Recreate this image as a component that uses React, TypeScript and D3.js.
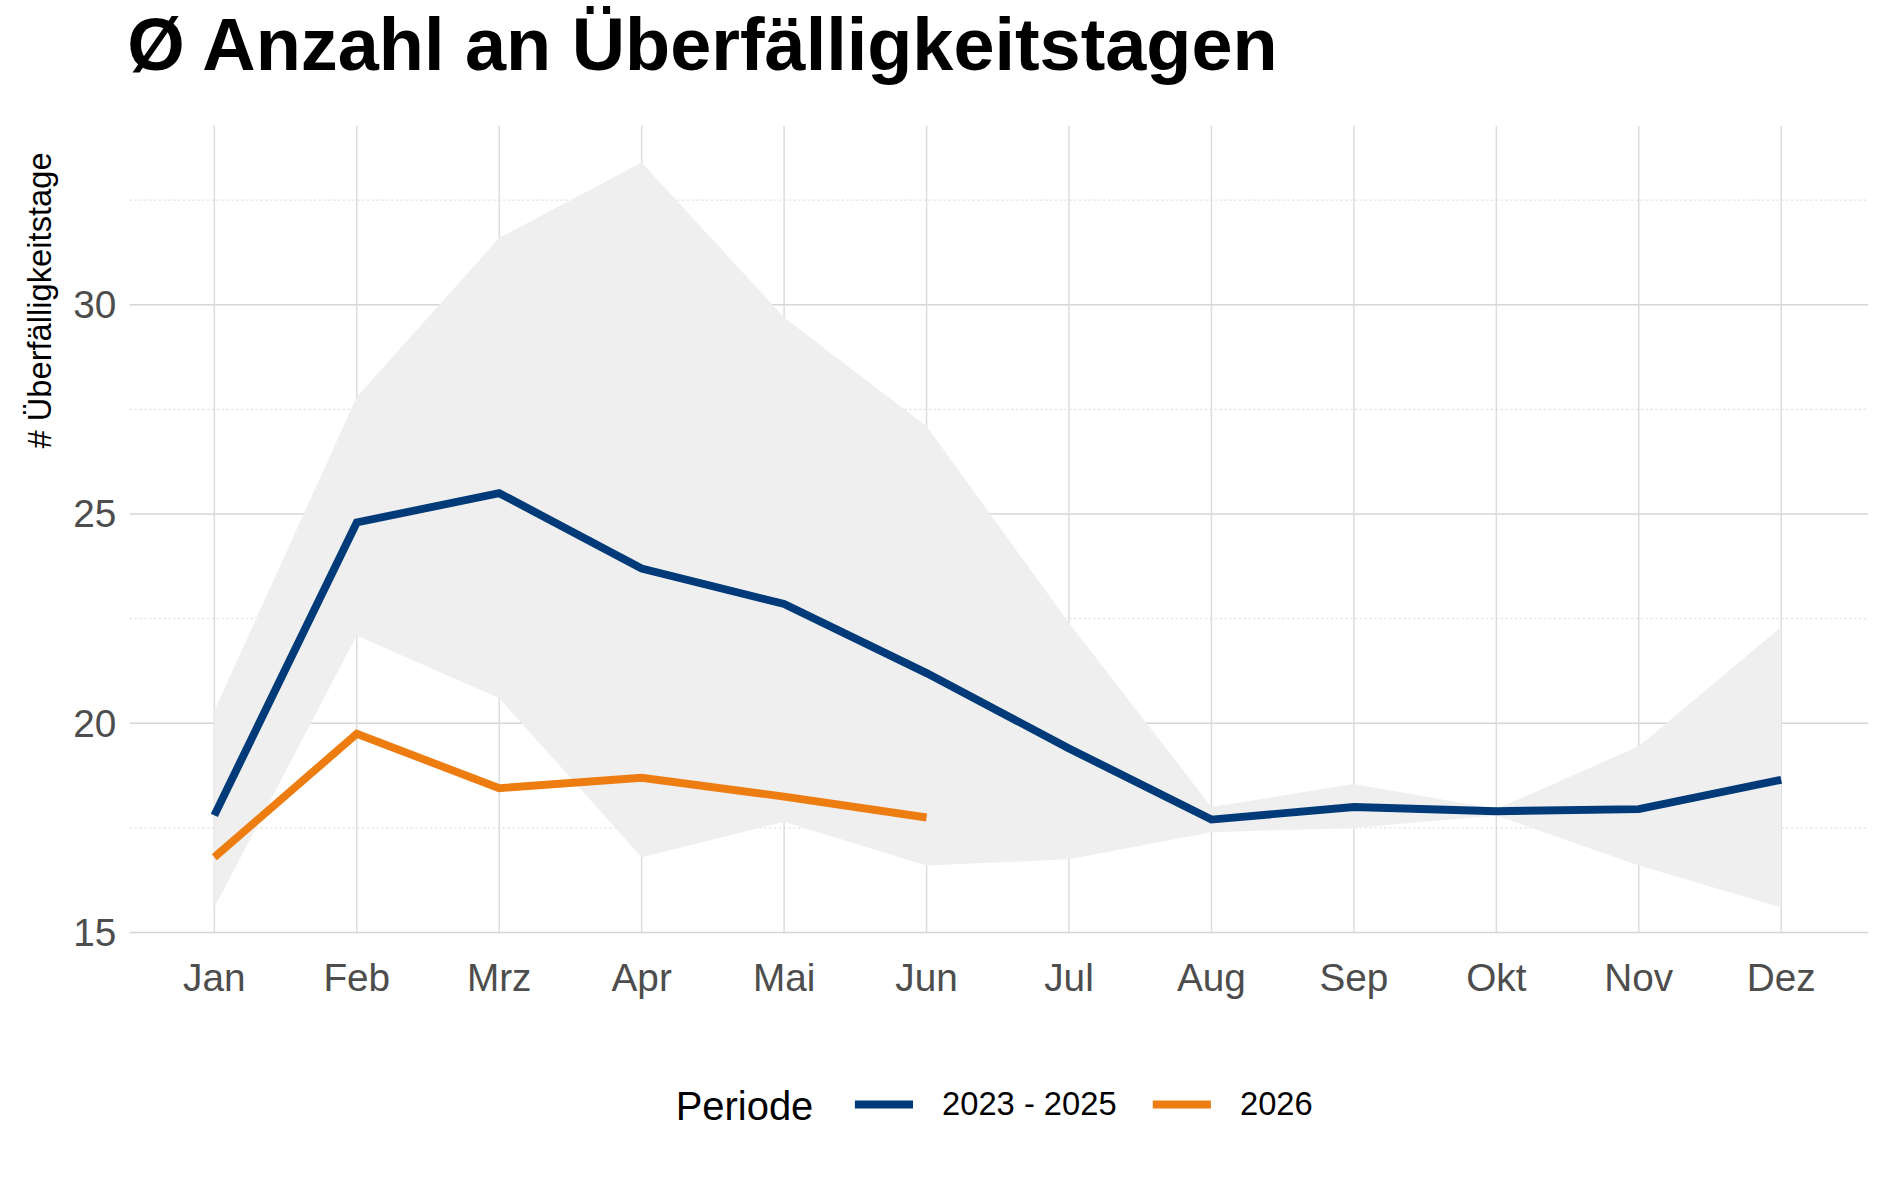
import React from "react";
import * as d3 from "d3";

const months = ["Jan","Feb","Mrz","Apr","Mai","Jun","Jul","Aug","Sep","Okt","Nov","Dez"];
const avg = [17.8,24.8,25.5,23.7,22.85,21.2,19.4,17.7,18.0,17.9,17.95,18.65];
const upper = [20.3,27.8,31.6,33.4,29.7,27.1,22.4,18.0,18.55,17.95,19.45,22.3];
const lower = [15.6,22.1,20.6,16.8,17.65,16.6,16.75,17.4,17.5,17.8,16.6,15.6];
const cur = [16.8,19.75,18.45,18.7,18.25,17.75];
const majorTicks = [15,20,25,30];
const minorTicks = [17.5,22.5,27.5,32.5];

const BLUE = "#003a78";
const ORANGE = "#ee7d11";

export default function App() {
  const x = d3.scalePoint<string>().domain(months).range([177, 1471]);
  const y = d3.scaleLinear().domain([15, 34.27]).range([770, 104]);
  const line = d3.line<number>().x((_, i) => x(months[i])!).y(d => y(d));
  const area = d3.area<number>().x((_, i) => x(months[i])!).y0((_, i) => y(lower[i])).y1(d => y(d));
  return (
    <svg width={1889} height={1181} viewBox="0 0 1560 975" style={{ position: "absolute", left: 0, top: 0, background: "#fff" }} fontFamily="Arial, 'Liberation Sans', sans-serif">
      <rect width={1560} height={975} fill="#fff" />
      <text x={105} y={58} fontSize={61} fontWeight="bold" fill="#000">Ø Anzahl an Überfälligkeitstagen</text>
      {minorTicks.map(t => <line key={t} x1={107} x2={1543} y1={y(t)} y2={y(t)} stroke="#e3e3e3" strokeDasharray="2,2" />)}
      {majorTicks.map(t => <line key={t} x1={107} x2={1543} y1={y(t)} y2={y(t)} stroke="#d6d6d6" strokeWidth={1.2} />)}
      {months.map(m => <line key={m} x1={x(m)} x2={x(m)} y1={104} y2={770} stroke="#dcdcdc" strokeWidth={1.2} />)}
      <path d={area(upper)!} fill="#efefef" />
      <path d={line(avg)!} fill="none" stroke={BLUE} strokeWidth={6.5} />
      <path d={line(cur)!} fill="none" stroke={ORANGE} strokeWidth={6.5} />
      {majorTicks.map(t => <text key={t} x={96} y={y(t) + 11} fontSize={32} fill="#4d4d4d" textAnchor="end">{t}</text>)}
      {months.map(m => <text key={m} x={x(m)} y={818} fontSize={32} fill="#4d4d4d" textAnchor="middle">{m}</text>)}
      <text transform="translate(42,248) rotate(-90)" fontSize={27} fill="#000" textAnchor="middle">
        # Überfälligkeitstage
      </text>
      <text x={558} y={925} fontSize={33} fill="#000">Periode</text>
      <line x1={706} x2={754} y1={912} y2={912} stroke={BLUE} strokeWidth={6.5} />
      <text x={778} y={921} fontSize={27} fill="#000">2023 - 2025</text>
      <line x1={952} x2={1000} y1={912} y2={912} stroke={ORANGE} strokeWidth={6.5} />
      <text x={1024} y={921} fontSize={27} fill="#000">2026</text>
    </svg>
  );
}
